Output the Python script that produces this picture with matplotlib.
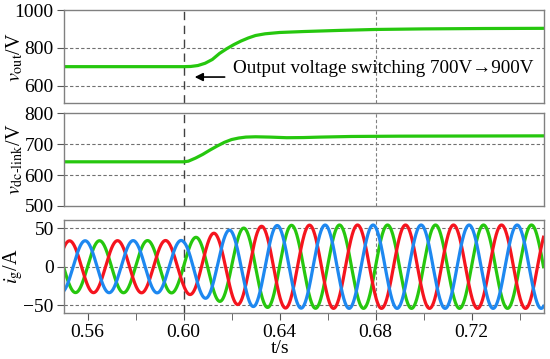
import numpy as np
import matplotlib
matplotlib.use("Agg")
import matplotlib.pyplot as plt

plt.rcParams['font.family'] = ['Liberation Serif', 'DejaVu Serif']
plt.rcParams['mathtext.fontset'] = 'stix'
plt.rcParams['font.size'] = 13

# output voltage (t in s, V)
t_out = [0.550, 0.600, 0.603, 0.606, 0.609, 0.612, 0.615, 0.618, 0.621, 0.624, 0.627,
         0.630, 0.634, 0.640, 0.650, 0.665, 0.680, 0.700, 0.725, 0.750]
v_out = [700, 700, 701, 706, 718, 738, 770, 795, 817, 836, 852,
         865, 874, 881, 886, 892, 897, 900, 902, 903]

# dc-link voltage
t_dc = [0.550, 0.600, 0.602, 0.605, 0.608, 0.611, 0.614, 0.617, 0.620, 0.623, 0.626,
        0.630, 0.636, 0.643, 0.650, 0.657, 0.670, 0.690, 0.750]
v_dc = [643, 643, 645, 655, 667, 681, 694, 706, 715, 720, 723,
        724, 723, 721, 721.5, 723, 725, 726, 727]

# grid currents: amplitude envelope and peak times
env_t = [0.550, 0.600, 0.605, 0.612, 0.620, 0.630, 0.640, 0.660, 0.750]
env_a = [33.5, 34, 38, 43, 48, 52, 53.5, 54, 54]
f_grid = 50
peaks = {'#f5141e': 0.5525, '#1e88f0': 0.5590, '#26c70e': 0.5650}

green = '#26c70e'
spine_c = '#808080'

fig = plt.figure(figsize=(5.5, 3.59), dpi=100)
ax1 = fig.add_axes([0.1155, 0.7123, 0.8727, 0.2598])
ax2 = fig.add_axes([0.1155, 0.4262, 0.8727, 0.2582])
ax3 = fig.add_axes([0.1155, 0.1281, 0.8727, 0.2591])

ax1.plot(t_out, v_out, color=green, lw=2.3)
ax2.plot(t_dc, v_dc, color=green, lw=2.3)

t = np.linspace(0.55, 0.75, 4000)
amp = np.interp(t, env_t, env_a)
for c in ['#26c70e', '#f5141e', '#1e88f0']:
    ax3.plot(t, amp * np.cos(2 * np.pi * f_grid * (t - peaks[c])), color=c, lw=2.3)

ax1.set_ylim(506, 1000)
ax1.set_yticks([600, 800, 1000])
ax2.set_ylim(500, 800)
ax2.set_yticks([500, 600, 700, 800])
ax3.set_ylim(-60, 60.5)
ax3.set_yticks([-50, 0, 50])

for ax, grid in [(ax1, [600, 800]), (ax2, [600, 700]), (ax3, [-50, 0, 50])]:
    ax.set_xlim(0.55, 0.75)
    for g in grid:
        ax.axhline(g, color='#707070', lw=0.8, dashes=(3, 2), zorder=0)
    ax.axvline(0.60, color='#404040', lw=1.0, dashes=(6, 4), zorder=0)
    ax.axvline(0.68, color='#808080', lw=0.8, dashes=(3, 2), zorder=0)
    for s in ax.spines.values():
        s.set_color(spine_c)
        s.set_linewidth(1.0)
    ax.tick_params(axis='y', length=5, color='#555555', pad=2, labelsize=14)
    if ax is not ax3:
        ax.set_xticks([])

ax3.set_xticks([0.56, 0.60, 0.64, 0.68, 0.72])
ax3.set_xticklabels(['0.56', '0.60', '0.64', '0.68', '0.72'])
ax3.set_xticks([0.58, 0.62, 0.66, 0.70, 0.74], minor=True)
ax3.tick_params(axis='x', which='both', length=5, color='#555555', pad=3, labelsize=14)

ax1.set_ylabel(r'$v_{\mathrm{out}}$/V', fontsize=14.5)
ax2.set_ylabel(r'$v_{\mathrm{dc\text{-}link}}$/V', fontsize=14.5)
ax3.set_ylabel(r'$i_{\mathrm{g}}$/A', fontsize=14.5)
for ax in (ax1, ax2, ax3):
    ax.yaxis.set_label_coords(-0.08, 0.5)
ax3.set_xlabel('t/s', fontsize=14)
ax3.xaxis.set_label_coords(0.451, -0.29)

ax1.annotate('', xy=(0.6035, 645), xytext=(0.6183, 645),
             arrowprops=dict(arrowstyle='-|>', color='black', lw=1.2, mutation_scale=12))
ax1.text(0.6205, 692, 'Output voltage switching 700V\u2192900V', fontsize=13.7,
         ha='left', va='center')

plt.savefig('out.png', dpi=100)
